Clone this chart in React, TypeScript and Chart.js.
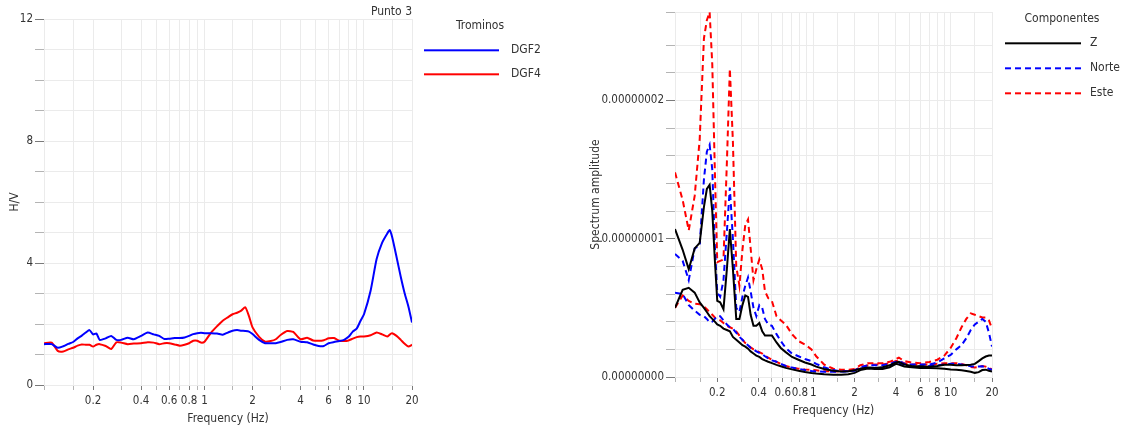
import React, { useEffect, useRef } from 'react';
import { Chart, registerables } from 'chart.js';

Chart.register(...registerables);

const FONT = "'DejaVu Sans Condensed', 'DejaVu Sans', sans-serif";
const TEXT = '#333333';
const GRID = '#ebebeb';
const TICK_MAJOR = '#7a7a7a';
const TICK_MINOR = '#b4b4b4';
const BLUE = '#0000ff';
const RED = '#ff0000';
const BLACK = '#000000';

// ---------- Left chart: H/V ----------
const freqHV = [
  0.0985, 0.11, 0.12, 0.13, 0.14, 0.15, 0.16, 0.17, 0.18, 0.19,
  0.20, 0.21, 0.22, 0.24, 0.26, 0.28, 0.30, 0.33, 0.36, 0.40,
  0.44, 0.48, 0.52, 0.56, 0.60, 0.65, 0.70, 0.75, 0.80, 0.85,
  0.90, 0.95, 1.0, 1.1, 1.2, 1.3, 1.4, 1.5, 1.6, 1.7,
  1.8, 1.9, 2.0, 2.2, 2.4, 2.6, 2.8, 3.0, 3.3, 3.6,
  4.0, 4.4, 4.8, 5.2, 5.6, 6.0, 6.5, 7.0, 7.5, 8.0,
  8.5, 9.0, 9.5, 10, 11, 12, 13, 14, 14.5, 15,
  16, 17, 18, 19, 20,
];
const dgf2 = [
  1.34, 1.34, 1.22, 1.27, 1.35, 1.41, 1.53, 1.62, 1.72, 1.80,
  1.66, 1.69, 1.48, 1.53, 1.61, 1.48, 1.48, 1.55, 1.50, 1.61,
  1.72, 1.66, 1.61, 1.51, 1.52, 1.54, 1.54, 1.56, 1.61, 1.67,
  1.70, 1.71, 1.70, 1.70, 1.69, 1.65, 1.72, 1.78, 1.80, 1.78,
  1.77, 1.75, 1.67, 1.48, 1.37, 1.37, 1.37, 1.41, 1.48, 1.50,
  1.42, 1.40, 1.33, 1.28, 1.28, 1.37, 1.41, 1.44, 1.48, 1.58,
  1.75, 1.85, 2.10, 2.32, 3.09, 4.13, 4.67, 4.97, 5.08, 4.86,
  4.20, 3.55, 3.00, 2.57, 2.05,
];
const dgf4 = [
  1.37, 1.39, 1.12, 1.10, 1.17, 1.22, 1.29, 1.33, 1.32, 1.32,
  1.26, 1.32, 1.34, 1.28, 1.18, 1.40, 1.39, 1.34, 1.36, 1.37,
  1.40, 1.39, 1.34, 1.37, 1.37, 1.33, 1.29, 1.32, 1.37, 1.45,
  1.45, 1.39, 1.42, 1.72, 1.93, 2.11, 2.22, 2.32, 2.37, 2.44,
  2.55, 2.26, 1.89, 1.58, 1.42, 1.44, 1.50, 1.64, 1.77, 1.74,
  1.50, 1.55, 1.46, 1.45, 1.47, 1.53, 1.54, 1.45, 1.44, 1.46,
  1.52, 1.57, 1.59, 1.59, 1.63, 1.72, 1.66, 1.59, 1.65, 1.70,
  1.61, 1.48, 1.35, 1.26, 1.32,
];

// ---------- Right chart: spectra (values in units of 1e-8) ----------
const SP_UNIT = 1e-8;
const freqSp = [
  0.0985, 0.112, 0.124, 0.137, 0.149, 0.160, 0.168, 0.176, 0.184, 0.192,
  0.200, 0.210, 0.222, 0.235, 0.247, 0.260, 0.275, 0.290, 0.305, 0.320,
  0.335, 0.350, 0.367, 0.385, 0.405, 0.425, 0.445, 0.470, 0.500, 0.540,
  0.58, 0.63, 0.70, 0.78, 0.87, 0.97, 1.05, 1.2, 1.4, 1.6,
  1.8, 2.0, 2.2, 2.5, 2.8, 3.2, 3.6, 4.0, 4.2, 4.6,
  5.2, 6.0, 7.0, 8.0, 9.0, 10, 11, 12, 13, 14,
  15, 16, 17, 18, 19, 20,
];
const zA = [
  1.07, 0.92, 0.78, 0.93, 0.97, 1.23, 1.36, 1.39, 1.20, 0.85,
  0.55, 0.54, 0.49, 0.78, 1.07, 0.78, 0.42, 0.42, 0.52, 0.59,
  0.58, 0.45, 0.37, 0.37, 0.39, 0.33, 0.30, 0.30, 0.30, 0.25,
  0.21, 0.18, 0.145, 0.125, 0.105, 0.09, 0.075, 0.058, 0.045, 0.04,
  0.042, 0.048, 0.06, 0.068, 0.065, 0.07, 0.085, 0.105, 0.11, 0.09,
  0.08, 0.077, 0.075, 0.08, 0.088, 0.088, 0.085, 0.085, 0.087, 0.089,
  0.095, 0.115, 0.135, 0.148, 0.155, 0.155,
];
const nA = [
  0.89, 0.84, 0.70, 0.93, 0.95, 1.43, 1.63, 1.68, 1.50, 0.95,
  0.61, 0.58, 0.70, 1.05, 1.37, 1.00, 0.50, 0.47, 0.58, 0.66,
  0.72, 0.62, 0.50, 0.44, 0.52, 0.50, 0.42, 0.38, 0.37, 0.31,
  0.26, 0.21, 0.17, 0.15, 0.13, 0.115, 0.095, 0.07, 0.05, 0.04,
  0.042, 0.048, 0.07, 0.085, 0.085, 0.085, 0.095, 0.11, 0.118, 0.095,
  0.09, 0.09, 0.09, 0.105, 0.135, 0.16, 0.20, 0.23, 0.28, 0.34,
  0.38, 0.40, 0.42, 0.40, 0.32, 0.22,
];
const eA = [
  1.48, 1.28, 1.06, 1.31, 1.72, 2.45, 2.58, 2.64, 2.26, 1.50,
  0.83, 0.84, 0.85, 1.55, 2.23, 1.70, 0.80, 0.66, 0.92, 1.10,
  1.14, 0.93, 0.70, 0.78, 0.85, 0.78, 0.62, 0.57, 0.55, 0.44,
  0.41, 0.38, 0.31, 0.26, 0.235, 0.20, 0.15, 0.09, 0.06, 0.053,
  0.053, 0.058, 0.085, 0.10, 0.10, 0.10, 0.11, 0.13, 0.14, 0.115,
  0.105, 0.10, 0.108, 0.125, 0.155, 0.21, 0.28, 0.36, 0.42, 0.46,
  0.45, 0.44, 0.43, 0.43, 0.41, 0.35,
];
const zB = [
  0.50, 0.63, 0.645, 0.61, 0.54, 0.50, 0.47, 0.44, 0.42, 0.40,
  0.38, 0.37, 0.35, 0.34, 0.33, 0.29, 0.27, 0.25, 0.23, 0.22,
  0.205, 0.185, 0.17, 0.155, 0.145, 0.13, 0.12, 0.11, 0.10, 0.088,
  0.078, 0.066, 0.055, 0.045, 0.036, 0.029, 0.025, 0.02, 0.016, 0.016,
  0.02, 0.03, 0.05, 0.062, 0.058, 0.058, 0.07, 0.095, 0.09, 0.075,
  0.07, 0.065, 0.065, 0.064, 0.06, 0.055, 0.052, 0.048, 0.044, 0.038,
  0.03, 0.035, 0.05, 0.053, 0.045, 0.04,
];
const nB = [
  0.61, 0.60, 0.52, 0.48, 0.45, 0.44, 0.42, 0.395, 0.40, 0.42,
  0.44, 0.44, 0.41, 0.38, 0.36, 0.35, 0.32, 0.29, 0.27, 0.245,
  0.23, 0.21, 0.20, 0.185, 0.175, 0.165, 0.15, 0.135, 0.12, 0.11,
  0.095, 0.08, 0.068, 0.058, 0.05, 0.043, 0.04, 0.038, 0.038, 0.04,
  0.042, 0.045, 0.06, 0.068, 0.066, 0.068, 0.08, 0.10, 0.10, 0.082,
  0.078, 0.077, 0.08, 0.085, 0.09, 0.095, 0.095, 0.09, 0.085, 0.078,
  0.075, 0.076, 0.078, 0.07, 0.06, 0.052,
];
const eB = [
  0.50, 0.59, 0.55, 0.53, 0.527, 0.51, 0.49, 0.47, 0.45, 0.43,
  0.42, 0.41, 0.39, 0.37, 0.36, 0.35, 0.33, 0.30, 0.27, 0.245,
  0.23, 0.215, 0.20, 0.19, 0.18, 0.17, 0.155, 0.14, 0.125, 0.11,
  0.095, 0.08, 0.068, 0.06, 0.055, 0.052, 0.048, 0.042, 0.04, 0.042,
  0.045, 0.05, 0.07, 0.085, 0.09, 0.09, 0.10, 0.115, 0.115, 0.10,
  0.092, 0.09, 0.09, 0.095, 0.10, 0.10, 0.10, 0.095, 0.085, 0.072,
  0.068, 0.072, 0.08, 0.075, 0.065, 0.055,
];

const FREQ_LABELS = [0.2, 0.4, 0.6, 0.8, 1, 2, 4, 6, 8, 10, 20];
const HV_LABELS = [0, 4, 8, 12];

function freqLabel(v: number): string {
  const m = FREQ_LABELS.find((l) => Math.abs(v - l) < l * 1e-6);
  return m === undefined ? '' : String(m);
}
function hvLabel(v: number): string {
  const m = HV_LABELS.find((l) => Math.abs(v - l) < 1e-6);
  return m === undefined ? '' : String(m);
}
function ampLabel(v: number): string {
  const u = v / SP_UNIT;
  return Math.abs(u - Math.round(u)) < 1e-6 ? (Math.round(u) * SP_UNIT).toFixed(8) : '';
}

function legendLine(color: string, dash: number[], boxW: number, lineW: number) {
  const c = document.createElement('canvas');
  c.width = boxW;
  c.height = 4;
  const g = c.getContext('2d')!;
  g.strokeStyle = color;
  g.lineWidth = 2;
  g.setLineDash(dash);
  g.beginPath();
  g.moveTo(0, 2);
  g.lineTo(lineW, 2);
  g.stroke();
  return c;
}

function fixLegendWidth(w: number) {
  return {
    id: 'fixLegendWidth',
    beforeLayout(chart: any) {
      const lg = chart.legend;
      if (lg && !lg.__fixed) {
        const orig = lg.fit.bind(lg);
        lg.fit = () => {
          orig();
          lg.width = w;
        };
        lg.__fixed = true;
      }
    },
  };
}

const pts = (xs: number[], ys: number[], k = 1) => xs.map((x, i) => ({ x, y: ys[i] * k }));

const font = (size = 12, extra: any = {}) => ({ family: FONT, size, weight: 'normal' as const, ...extra });
const TICK_FONT = 11.5;

// tick mark colour: darker where a label is shown
const tickColorBy = (fmt: (v: number) => string) => (ctx: any) =>
  ctx.tick && fmt(Number(ctx.tick.value)) !== '' ? TICK_MAJOR : TICK_MINOR;

function leftConfig(): any {
  const BW = 81;
  return {
    type: 'line',
    data: {
      datasets: [
        { label: 'DGF2', data: pts(freqHV, dgf2), borderColor: BLUE, backgroundColor: BLUE, borderWidth: 2, pointRadius: 0, pointStyle: legendLine(BLUE, [], BW, 75), tension: 0.2, fill: false },
        { label: 'DGF4', data: pts(freqHV, dgf4), borderColor: RED, backgroundColor: RED, borderWidth: 2, pointRadius: 0, pointStyle: legendLine(RED, [], BW, 75), tension: 0.2, fill: false },
      ],
    },
    options: {
      responsive: false,
      animation: false,
      events: [],
      layout: { padding: { left: 0, right: 12, top: 0, bottom: 0 } },
      scales: {
        x: {
          type: 'logarithmic', min: 0.0985, max: 20,
          grid: { color: GRID, tickColor: tickColorBy(freqLabel), tickLength: 5 },
          border: { color: GRID },
          ticks: { autoSkip: false, maxRotation: 0, minRotation: 0, padding: 3.8, color: TEXT, font: font(TICK_FONT), callback: (v: any) => freqLabel(Number(v)) },
          title: { display: true, text: 'Frequency (Hz)', color: TEXT, font: font(), padding: { top: 0, bottom: 0.5 } },
          afterFit: (s: any) => { s.height = 42; },
        },
        y: {
          type: 'linear', min: 0, max: 12,
          grid: { color: GRID, tickColor: tickColorBy(hvLabel), tickLength: 9 },
          border: { color: GRID },
          ticks: { stepSize: 1, maxTicksLimit: 20, padding: 2, color: TEXT, font: font(TICK_FONT), callback: (v: any) => hvLabel(Number(v)) },
          title: { display: true, text: 'H/V', color: TEXT, font: font(), padding: { top: 7.2, bottom: 0 } },
          afterFit: (s: any) => { s.width = 44; },
        },
      },
      plugins: {
        title: { display: true, text: 'Punto 3', align: 'end', fullSize: false, color: TEXT, font: font(12), padding: { top: 4.5, bottom: 0.2 } },
        legend: {
          position: 'right', align: 'start', fullSize: false,
          title: { display: true, text: 'Trominos', color: TEXT, font: font(12, { lineHeight: 1 }), padding: { top: 1.2, bottom: 0 } },
          labels: { usePointStyle: true, pointStyleWidth: BW, padding: 12, color: TEXT, font: font(12) },
        },
        tooltip: { enabled: false },
      },
    },
    plugins: [fixLegendWidth(136)],
  };
}

function rightConfig(): any {
  const BW = 79;
  const LW = 76;
  const DASH = [6, 4];
  const zStyle = legendLine(BLACK, [], BW, LW);
  const nStyle = legendLine(BLUE, DASH, BW, LW);
  const eStyle = legendLine(RED, DASH, BW, LW);
  const base = { borderWidth: 2, pointRadius: 0, tension: 0, fill: false };
  return {
    type: 'line',
    data: {
      datasets: [
        { ...base, label: 'Z', data: pts(freqSp, zA, SP_UNIT), borderColor: BLACK, backgroundColor: BLACK, pointStyle: zStyle },
        { ...base, label: 'Norte', data: pts(freqSp, nA, SP_UNIT), borderColor: BLUE, backgroundColor: BLUE, borderDash: DASH, pointStyle: nStyle },
        { ...base, label: 'Este', data: pts(freqSp, eA, SP_UNIT), borderColor: RED, backgroundColor: RED, borderDash: DASH, pointStyle: eStyle },
        { ...base, label: 'Z (2)', data: pts(freqSp, zB, SP_UNIT), borderColor: BLACK, backgroundColor: BLACK, pointStyle: zStyle },
        { ...base, label: 'Norte (2)', data: pts(freqSp, nB, SP_UNIT), borderColor: BLUE, backgroundColor: BLUE, borderDash: DASH, pointStyle: nStyle },
        { ...base, label: 'Este (2)', data: pts(freqSp, eB, SP_UNIT), borderColor: RED, backgroundColor: RED, borderDash: DASH, pointStyle: eStyle },
      ],
    },
    options: {
      responsive: false,
      animation: false,
      events: [],
      layout: { padding: { left: 0, right: 0, top: 12, bottom: 0 } },
      scales: {
        x: {
          type: 'logarithmic', min: 0.0985, max: 20,
          grid: { color: GRID, tickColor: tickColorBy(freqLabel), tickLength: 5 },
          border: { color: GRID },
          ticks: { autoSkip: false, maxRotation: 0, minRotation: 0, padding: 4.1, color: TEXT, font: font(TICK_FONT), callback: (v: any) => freqLabel(Number(v)) },
          title: { display: true, text: 'Frequency (Hz)', color: TEXT, font: font(), padding: { top: 0, bottom: 8.8 } },
          afterFit: (s: any) => { s.height = 50; },
        },
        y: {
          type: 'linear', min: 0, max: 2.64 * SP_UNIT,
          grid: { color: GRID, tickColor: tickColorBy(ampLabel), tickLength: 9 },
          border: { color: GRID },
          ticks: { stepSize: 0.2 * SP_UNIT, maxTicksLimit: 20, padding: 2, color: TEXT, font: font(TICK_FONT), callback: (v: any) => ampLabel(Number(v)) },
          title: { display: true, text: 'Spectrum amplitude', color: TEXT, font: font(), padding: { top: 28.8, bottom: 0 } },
          afterFit: (s: any) => { s.width = 115; },
        },
      },
      plugins: {
        legend: {
          position: 'right', align: 'start', fullSize: false,
          title: { display: true, text: 'Componentes', color: TEXT, font: font(12, { lineHeight: 1 }), padding: { top: 1.3, bottom: -1 } },
          labels: { usePointStyle: true, pointStyleWidth: BW, padding: 13, color: TEXT, font: font(12), filter: (item: any) => item.datasetIndex < 3 },
        },
        tooltip: { enabled: false },
      },
    },
    plugins: [fixLegendWidth(140)],
  };
}

export default function App() {
  const leftRef = useRef<HTMLCanvasElement>(null);
  const rightRef = useRef<HTMLCanvasElement>(null);

  useEffect(() => {
    const c1 = new Chart(leftRef.current!, leftConfig());
    const c2 = new Chart(rightRef.current!, rightConfig());
    return () => {
      c1.destroy();
      c2.destroy();
    };
  }, []);

  return (
    <div style={{ position: 'fixed', left: 0, top: 0, width: 1125, height: 427, overflow: 'hidden', background: '#ffffff' }}>
      <canvas ref={leftRef} width={560} height={427} style={{ position: 'absolute', left: 0, top: 0 }} />
      <canvas ref={rightRef} width={572} height={427} style={{ position: 'absolute', left: 560, top: 0 }} />
    </div>
  );
}
